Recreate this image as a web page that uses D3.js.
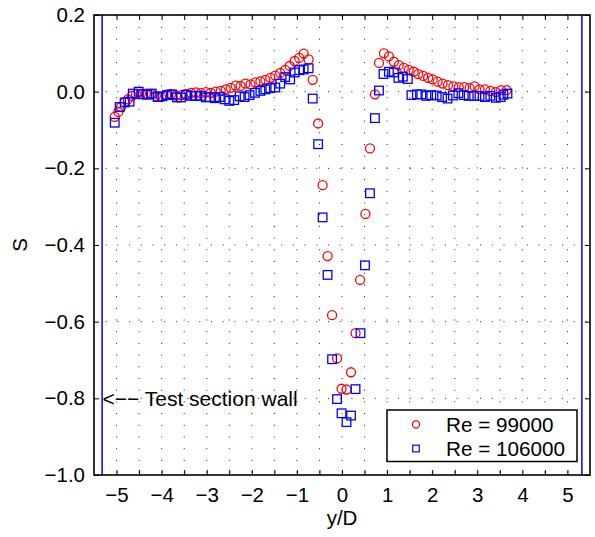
<!DOCTYPE html>
<html>
<head>
<meta charset="utf-8">
<script src="https://cdn.jsdelivr.net/npm/d3@7/dist/d3.min.js"></script>
<style>
  html, body { margin: 0; padding: 0; background: #fff; }
  svg { display: block; font-family: 'Liberation Sans', Arial, Helvetica, sans-serif; }
</style>
</head>
<body>
<svg id="chart" width="595" height="537"></svg>
<script>
// Re = 99000, [y/D, S]
const re99000 = [
  [-5.04, -0.066], [-4.96, -0.053], [-4.90, -0.040], [-4.82, -0.028], [-4.75, -0.020],
  [-4.66, -0.011], [-4.57, -0.007], [-4.46, -0.005], [-4.35, -0.005], [-4.24, -0.006],
  [-4.13, -0.011], [-4.01, -0.014], [-3.90, -0.008], [-3.79, -0.006], [-3.68, -0.010],
  [-3.57, -0.009], [-3.46, -0.006], [-3.35, -0.003], [-3.24, -0.002], [-3.13, -0.004],
  [-3.02, -0.001], [-2.91, -0.003], [-2.80, 0.000], [-2.69, 0.002], [-2.58, 0.006],
  [-2.47, 0.010], [-2.36, 0.016], [-2.25, 0.015], [-2.14, 0.021], [-2.03, 0.019],
  [-1.92, 0.024], [-1.81, 0.027], [-1.70, 0.031], [-1.59, 0.036], [-1.48, 0.042],
  [-1.37, 0.049], [-1.26, 0.057], [-1.16, 0.067], [-1.05, 0.080], [-0.95, 0.088],
  [-0.85, 0.099], [-0.74, 0.084], [-0.65, 0.031], [-0.53, -0.083], [-0.43, -0.244],
  [-0.32, -0.429], [-0.22, -0.583], [-0.11, -0.696], [-0.01, -0.775], [0.10, -0.777],
  [0.20, -0.732], [0.30, -0.630], [0.40, -0.491], [0.52, -0.319], [0.62, -0.148],
  [0.73, -0.007], [0.82, 0.075], [0.93, 0.100], [1.04, 0.092], [1.15, 0.078],
  [1.26, 0.069], [1.37, 0.062], [1.48, 0.057], [1.59, 0.052], [1.69, 0.046],
  [1.80, 0.041], [1.91, 0.036], [2.01, 0.032], [2.12, 0.026], [2.23, 0.021],
  [2.35, 0.017], [2.47, 0.014], [2.59, 0.012], [2.71, 0.012], [2.83, 0.009],
  [2.94, 0.014], [3.05, 0.006], [3.17, 0.006], [3.29, 0.002], [3.41, -0.001],
  [3.53, 0.004], [3.65, 0.004]
];

// Re = 106000, [y/D, S]
const re106000 = [
  [-5.04, -0.081], [-4.93, -0.040], [-4.82, -0.028], [-4.71, -0.026], [-4.64, -0.005],
  [-4.51, 0.000], [-4.42, -0.007], [-4.32, -0.008], [-4.22, -0.005], [-4.09, -0.014],
  [-3.98, -0.012], [-3.88, -0.009], [-3.77, -0.007], [-3.66, -0.015], [-3.57, -0.015],
  [-3.46, -0.008], [-3.35, -0.011], [-3.24, -0.011], [-3.13, -0.011], [-3.02, -0.015],
  [-2.93, -0.014], [-2.82, -0.017], [-2.71, -0.014], [-2.60, -0.020], [-2.50, -0.024],
  [-2.39, -0.022], [-2.27, -0.012], [-2.16, -0.014], [-2.05, -0.009], [-1.93, -0.003],
  [-1.81, 0.002], [-1.70, 0.006], [-1.59, 0.009], [-1.48, 0.011], [-1.37, 0.021],
  [-1.26, 0.038], [-1.15, 0.032], [-1.05, 0.050], [-0.95, 0.056], [-0.85, 0.058],
  [-0.74, 0.061], [-0.65, -0.018], [-0.53, -0.137], [-0.43, -0.328], [-0.32, -0.478],
  [-0.22, -0.698], [-0.11, -0.802], [-0.01, -0.839], [0.10, -0.862], [0.20, -0.845],
  [0.30, -0.776], [0.41, -0.630], [0.51, -0.453], [0.62, -0.265], [0.73, -0.069],
  [0.82, 0.003], [0.92, 0.046], [1.04, 0.052], [1.15, 0.050], [1.25, 0.036],
  [1.35, 0.039], [1.46, 0.033], [1.54, -0.009], [1.66, -0.007], [1.76, -0.007],
  [1.87, -0.011], [1.98, -0.009], [2.10, -0.010], [2.22, -0.014], [2.34, -0.018],
  [2.46, -0.010], [2.58, -0.004], [2.70, -0.009], [2.81, -0.011], [2.93, -0.011],
  [3.05, -0.011], [3.17, -0.014], [3.29, -0.011], [3.41, -0.016], [3.52, -0.014],
  [3.58, -0.008], [3.67, -0.005]
];

const wallPositions = [-5.32, 5.32];
const xTicks = [-5, -4.5, -4, -3.5, -3, -2.5, -2, -1.5, -1, -0.5, 0, 0.5, 1, 1.5, 2, 2.5, 3, 3.5, 4, 4.5, 5];
const yTicks = [0.2, 0, -0.2, -0.4, -0.6, -0.8, -1.0];
const seriesNames = ['Re = 99000', 'Re = 106000'];

const svg = d3.select('#chart');

const x = d3.scaleLinear().domain([-5.5, 5.5]).range([94, 590]);
const y = d3.scaleLinear().domain([-1, 0.2]).range([475, 15]);

const fontSize = 20.5;

// dotted grid, matlab style
const grid = svg.append('g').attr('class', 'grid');
grid
  .selectAll('line.v')
  .data(xTicks)
  .join('line')
  .attr('class', 'v')
  .attr('x1', d => x(d))
  .attr('x2', d => x(d))
  .attr('y1', y(0.2))
  .attr('y2', y(-1))
  .attr('stroke', '#222')
  .attr('stroke-width', 1)
  .attr('stroke-dasharray', '1,10.7')
  .attr('stroke-dashoffset', -12);
grid
  .selectAll('line.h')
  .data(yTicks.filter(d => d > -1 && d < 0.2))
  .join('line')
  .attr('class', 'h')
  .attr('x1', x(-5.5))
  .attr('x2', x(5.5))
  .attr('y1', d => y(d))
  .attr('y2', d => y(d))
  .attr('stroke', '#222')
  .attr('stroke-width', 1)
  .attr('stroke-dasharray', '1,10.7');

// test section walls
svg
  .append('g')
  .selectAll('line')
  .data(wallPositions)
  .join('line')
  .attr('x1', d => x(d))
  .attr('x2', d => x(d))
  .attr('y1', y(-1))
  .attr('y2', y(0.2))
  .attr('stroke', '#0000ff')
  .attr('stroke-width', 1.5);

// data markers
svg
  .append('g')
  .selectAll('circle')
  .data(re99000)
  .join('circle')
  .attr('cx', d => x(d[0]))
  .attr('cy', d => y(d[1]))
  .attr('r', 4.5)
  .attr('fill', 'none')
  .attr('stroke', '#ff0000')
  .attr('stroke-width', 1.3);

const sq = 8.6;
svg
  .append('g')
  .selectAll('rect')
  .data(re106000)
  .join('rect')
  .attr('x', d => x(d[0]) - sq / 2)
  .attr('y', d => y(d[1]) - sq / 2)
  .attr('width', sq)
  .attr('height', sq)
  .attr('fill', 'none')
  .attr('stroke', '#0000ff')
  .attr('stroke-width', 1.3);

// axes, ticks pointing inward on all four sides
const xFmt = d => (Number.isInteger(d) ? d3.format('d')(d) : '');
const yFmt = d3.format('.1f');

const styleAxis = g => {
  g.select('.domain').remove();
  g.selectAll('.tick line').attr('stroke', '#000').attr('stroke-width', 1);
  g.selectAll('.tick text').attr('fill', '#000').style('font-size', fontSize + 'px');
};

svg
  .append('g')
  .attr('transform', `translate(0,${y(-1)})`)
  .call(d3.axisBottom(x).tickValues(xTicks).tickSize(-5).tickPadding(12.3).tickFormat(xFmt))
  .call(styleAxis);
svg
  .append('g')
  .attr('transform', `translate(0,${y(0.2)})`)
  .call(d3.axisTop(x).tickValues(xTicks).tickSize(-5).tickFormat(''))
  .call(styleAxis);
svg
  .append('g')
  .attr('transform', `translate(${x(-5.5)},0)`)
  .call(d3.axisLeft(y).tickValues(yTicks).tickSize(-5).tickPadding(9).tickFormat(yFmt))
  .call(styleAxis);
svg
  .append('g')
  .attr('transform', `translate(${x(5.5)},0)`)
  .call(d3.axisRight(y).tickValues(yTicks).tickSize(-5).tickFormat(''))
  .call(styleAxis);

// frame
svg
  .append('rect')
  .attr('x', x(-5.5))
  .attr('y', y(0.2))
  .attr('width', x(5.5) - x(-5.5))
  .attr('height', y(-1) - y(0.2))
  .attr('fill', 'none')
  .attr('stroke', '#000')
  .attr('stroke-width', 1.6);

// axis titles
svg
  .append('text')
  .attr('x', x(0))
  .attr('y', 525)
  .attr('text-anchor', 'middle')
  .style('font-size', fontSize + 'px')
  .text('y/D');
svg
  .append('text')
  .attr('transform', `translate(27,${(y(-1) + y(0.2)) / 2}) rotate(-90)`)
  .attr('text-anchor', 'middle')
  .style('font-size', fontSize + 'px')
  .text('S');

// annotation
svg
  .append('text')
  .attr('x', 102.5)
  .attr('y', 405.5)
  .style('font-size', '21px')
  .text('<\u2212\u2212 Test section wall');

// legend
const legend = svg.append('g').attr('class', 'legend');
legend
  .append('rect')
  .attr('x', 387)
  .attr('y', 410)
  .attr('width', 190)
  .attr('height', 51.5)
  .attr('fill', '#fff')
  .attr('stroke', '#000')
  .attr('stroke-width', 1.5);

const rows = legend
  .selectAll('g.row')
  .data(seriesNames)
  .join('g')
  .attr('class', 'row')
  .attr('transform', (d, i) => `translate(416,${424.5 + i * 24})`);

rows
  .filter((d, i) => i === 0)
  .append('circle')
  .attr('r', 3.6)
  .attr('fill', 'none')
  .attr('stroke', '#ff0000')
  .attr('stroke-width', 1.2);
rows
  .filter((d, i) => i === 1)
  .append('rect')
  .attr('x', -3.3)
  .attr('y', -3.3)
  .attr('width', 6.6)
  .attr('height', 6.6)
  .attr('fill', 'none')
  .attr('stroke', '#0000ff')
  .attr('stroke-width', 1.2);
rows
  .append('text')
  .attr('x', 30)
  .attr('y', 7.3)
  .style('font-size', '20.7px')
  .text(d => d);
</script>
</body>
</html>
